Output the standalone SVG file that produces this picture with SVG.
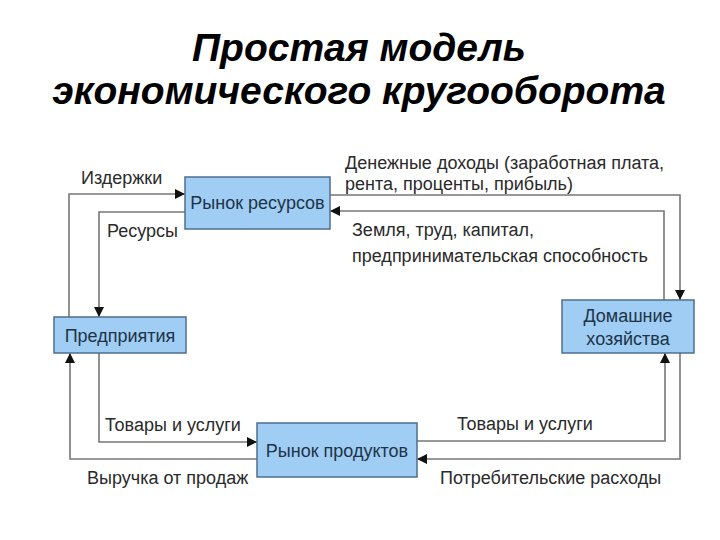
<svg xmlns="http://www.w3.org/2000/svg" width="720" height="540" viewBox="0 0 720 540">
<defs>
<marker id="ah" viewBox="0 0 10 10" refX="10" refY="5" markerWidth="12" markerHeight="10" markerUnits="userSpaceOnUse" orient="auto"><path d="M0,0 L10,5 L0,10 z" fill="#111"/></marker>
<style>
.box{fill:#9fcdf3;stroke:#4d6f8f;stroke-width:1.5}
.bt{font-family:"Liberation Sans",Arial,sans-serif;font-size:18px;fill:#1e3347}
.lb{font-family:"Liberation Sans",Arial,sans-serif;font-size:18px;fill:#2a2a2a}
.ttl{font-family:"Liberation Sans",Arial,sans-serif;font-size:39px;font-weight:bold;font-style:italic;fill:#000}
.ln{fill:none;stroke:#777;stroke-width:1.6}
.la{fill:none;stroke:#777;stroke-width:1.6;marker-end:url(#ah)}
</style>
</defs>
<rect width="720" height="540" fill="#fff"/>
<g id="title">
<text class="ttl" x="359" y="61" text-anchor="middle">Простая модель</text>
<text class="ttl" x="359" y="104" text-anchor="middle">экономического кругооборота</text>
</g>
<g id="connectors">
<polyline class="la" points="69,317 69,194 185,194"/>
<polyline class="la" points="185,212 99,212 99,317"/>
<polyline class="la" points="330,195 680,195 680,300"/>
<polyline class="la" points="664,300 664,211 330,211"/>
<polyline class="la" points="99,353 99,442 257,442"/>
<polyline class="la" points="257,459 70,459 70,353"/>
<polyline class="la" points="417,441 665,441 665,353"/>
<polyline class="la" points="680,353 680,459 417,459"/>
</g>
<g id="labels">
<text class="lb" x="81" y="184">Издержки</text>
<text class="lb" x="107" y="237">Ресурсы</text>
<text class="lb" x="345" y="169">Денежные доходы (заработная плата,</text>
<text class="lb" x="345" y="190">рента, проценты, прибыль)</text>
<text class="lb" x="352" y="236">Земля, труд, капитал,</text>
<text class="lb" x="352" y="262">предпринимательская способность</text>
<text class="lb" x="105" y="431">Товары и услуги</text>
<text class="lb" x="87" y="484">Выручка от продаж</text>
<text class="lb" x="457" y="430">Товары и услуги</text>
<text class="lb" x="440" y="484">Потребительские расходы</text>
</g>
<g id="resource-market">
<rect class="box" x="185" y="177" width="145" height="52"/>
<text class="bt" x="257.5" y="209" text-anchor="middle">Рынок ресурсов</text>
</g>
<g id="firms">
<rect class="box" x="54" y="317" width="132" height="36"/>
<text class="bt" x="120" y="342" text-anchor="middle">Предприятия</text>
</g>
<g id="households">
<rect class="box" x="562" y="300" width="132" height="53"/>
<text class="bt" x="628" y="322" text-anchor="middle">Домашние</text>
<text class="bt" x="628" y="345" text-anchor="middle">хозяйства</text>
</g>
<g id="product-market">
<rect class="box" x="257" y="423" width="160" height="54"/>
<text class="bt" x="337" y="457" text-anchor="middle">Рынок продуктов</text>
</g>
</svg>
